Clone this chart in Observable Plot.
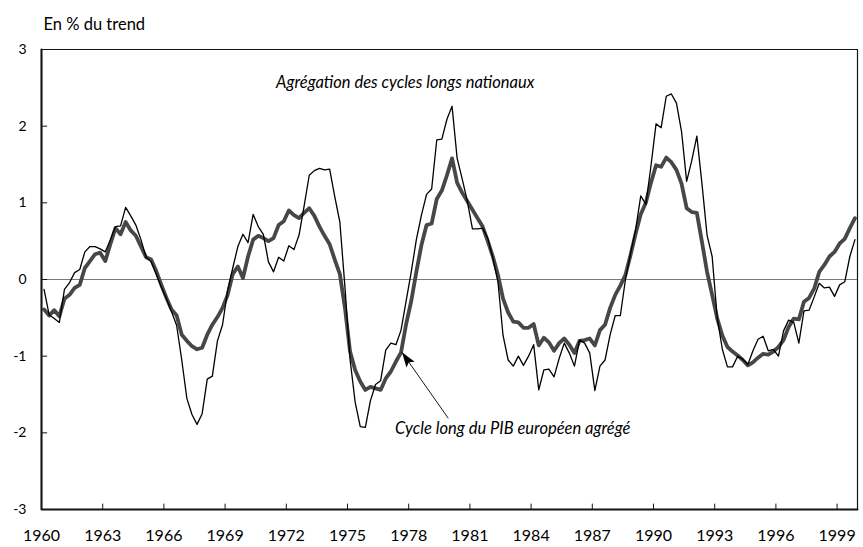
<!DOCTYPE html>
<html>
<head>
<meta charset="utf-8">
<script src="https://cdn.jsdelivr.net/npm/d3@7"></script>
<script src="https://cdn.jsdelivr.net/npm/@observablehq/plot@0.6"></script>
<style>
  body { margin: 0; background: #fff; }
  #chart g[aria-label="x-axis tick label"] { font-size: 16px; }
  #chart g[aria-label="y-axis tick label"] { font-size: 14px; }
</style>
</head>
<body>
<div id="chart"></div>
<script>
// Quarterly series, 1960Q1 .. 1999Q4 (160 quarters), in % of trend
const startYear = 1960;

// Thin black line: "Agrégation des cycles longs nationaux"
const aggregationNationaux = [
  -0.13, -0.46, -0.51, -0.56, -0.13, -0.04, 0.09, 0.13, 0.36, 0.43,
  0.43, 0.40, 0.36, 0.52, 0.69, 0.70, 0.94, 0.83, 0.71, 0.52,
  0.29, 0.23, 0.07, -0.10, -0.25, -0.42, -0.60, -1.05, -1.55, -1.76,
  -1.89, -1.75, -1.30, -1.26, -0.80, -0.59, -0.14, 0.15, 0.43, 0.59,
  0.48, 0.85, 0.69, 0.59, 0.23, 0.10, 0.29, 0.24, 0.44, 0.39,
  0.58, 0.96, 1.36, 1.42, 1.45, 1.43, 1.44, 1.08, 0.75, -0.10,
  -1.04, -1.60, -1.92, -1.93, -1.58, -1.37, -1.32, -0.92, -0.83, -0.85,
  -0.66, -0.28, 0.10, 0.52, 0.84, 1.11, 1.18, 1.82, 1.83, 2.09,
  2.26, 1.58, 1.31, 1.02, 0.66, 0.66, 0.67, 0.54, 0.28, -0.03,
  -0.73, -1.05, -1.13, -1.00, -1.12, -1.00, -0.85, -1.44, -1.18, -1.17,
  -1.27, -1.03, -0.83, -0.96, -1.13, -0.79, -0.83, -0.96, -1.45, -1.13,
  -1.05, -0.72, -0.47, -0.47, 0.00, 0.34, 0.65, 1.09, 0.98, 1.48,
  2.03, 1.98, 2.39, 2.42, 2.30, 1.93, 1.28, 1.55, 1.87, 1.25,
  0.58, 0.30, -0.50, -0.91, -1.14, -1.14, -1.00, -1.04, -1.11, -0.93,
  -0.78, -0.74, -0.93, -0.91, -1.00, -0.67, -0.53, -0.56, -0.83, -0.41,
  -0.40, -0.23, -0.05, -0.11, -0.10, -0.22, -0.07, -0.03, 0.30, 0.52
];

// Thick grey line: "Cycle long du PIB européen agrégé"
const cycleEuropeen = [
  -0.39, -0.47, -0.40, -0.48, -0.25, -0.20, -0.11, -0.07, 0.15, 0.24,
  0.33, 0.35, 0.24, 0.46, 0.67, 0.59, 0.75, 0.64, 0.57, 0.43,
  0.29, 0.26, 0.11, -0.07, -0.24, -0.39, -0.47, -0.72, -0.80, -0.87,
  -0.91, -0.89, -0.72, -0.59, -0.49, -0.37, -0.20, 0.07, 0.17, 0.02,
  0.30, 0.52, 0.57, 0.54, 0.50, 0.54, 0.71, 0.76, 0.90, 0.84,
  0.80, 0.87, 0.93, 0.83, 0.69, 0.57, 0.46, 0.26, 0.07, -0.37,
  -0.94, -1.18, -1.33, -1.44, -1.40, -1.42, -1.44, -1.29, -1.20, -1.07,
  -0.95, -0.58, -0.28, 0.10, 0.45, 0.71, 0.73, 1.05, 1.16, 1.36,
  1.58, 1.26, 1.13, 1.02, 0.91, 0.80, 0.69, 0.50, 0.30, 0.06,
  -0.25, -0.43, -0.55, -0.56, -0.63, -0.63, -0.58, -0.86, -0.76, -0.82,
  -0.93, -0.83, -0.77, -0.85, -0.96, -0.80, -0.79, -0.77, -0.86, -0.66,
  -0.59, -0.37, -0.20, -0.08, 0.06, 0.32, 0.60, 0.85, 1.00, 1.26,
  1.49, 1.47, 1.59, 1.53, 1.43, 1.25, 0.93, 0.88, 0.87, 0.49,
  0.10, -0.20, -0.51, -0.73, -0.88, -0.94, -0.99, -1.05, -1.12, -1.08,
  -1.02, -0.97, -0.98, -0.94, -0.88, -0.79, -0.62, -0.51, -0.52, -0.29,
  -0.24, -0.12, 0.10, 0.19, 0.30, 0.36, 0.47, 0.53, 0.67, 0.80
];

const xTickYears = [1960, 1963, 1966, 1969, 1972, 1975, 1978, 1981, 1984, 1987, 1990, 1993, 1996, 1999];
const yTickValues = [-3, -2, -1, 0, 1, 2, 3];
const xDomain = [1960, 2000];
const yDomain = [-3, 3];

const titleText = ["En % du trend"];
const annotations = [
  {label: "Agrégation des cycles longs nationaux", x: 1977.83, y: 2.5},
  {label: "Cycle long du PIB européen agrégé", x: 1983.1, y: -2.02}
];
const arrowLink = [{x1: 1979.94, y1: -1.81, x2: 1977.67, y2: -0.95}];

// each quarter sits at the centre of its category slot
const quarterPos = i => startYear + (i + 0.5) / 4;
const toRows = values => values.map((v, i) => ({t: quarterPos(i), v}));
const nat = toRows(aggregationNationaux);
const euro = toRows(cycleEuropeen);

// frame outline built from the scale domains
const [x0, x1] = xDomain, [y0, y1] = yDomain;
const boxOutline = [{t: x0, v: y0}, {t: x1, v: y0}, {t: x1, v: y1}, {t: x0, v: y1}, {t: x0, v: y0}];
const leftBottomAxes = [{t: x0, v: y1}, {t: x0, v: y0}, {t: x1, v: y0}];

// filled arrow head symbol, tip at origin, pointing up
const arrowHead = {
  draw(context) {
    context.moveTo(0, 0);
    context.lineTo(-5, 15);
    context.lineTo(0, 12);
    context.lineTo(5, 15);
    context.closePath();
  }
};

const ink = "#141414";

const chart = Plot.plot({
  width: 863,
  height: 547,
  marginLeft: 41,
  marginRight: 6,
  marginTop: 49,
  marginBottom: 38,
  style: {fontFamily: "Lato, 'Open Sans', sans-serif", fontSize: "15px", background: "white"},
  x: {domain: xDomain, ticks: xTickYears, tickSize: 0, tickPadding: 20, tickFormat: d => String(d), label: null},
  y: {domain: yDomain, ticks: yTickValues, tickSize: 0, tickPadding: 15, tickFormat: d => String(d), label: null},
  marks: [
    Plot.ruleY([0], {stroke: "#7a7a7a", strokeWidth: 1}),
    Plot.lineY(euro, {x: "t", y: "v", stroke: "#474747", strokeWidth: 3.8, strokeLinejoin: "round"}),
    Plot.lineY(nat, {x: "t", y: "v", stroke: "#000", strokeWidth: 1.3, strokeLinejoin: "round"}),
    Plot.frame({stroke: ink, strokeWidth: 1}),
    Plot.line(boxOutline, {x: "t", y: "v", stroke: ink, strokeWidth: 1.2}),
    Plot.line(leftBottomAxes, {x: "t", y: "v", stroke: ink, strokeWidth: 2}),
    Plot.ruleY(yTickValues.slice(1, -1), {x1: x0, x2: x0 + 0.3, stroke: ink, strokeWidth: 1}),
    Plot.ruleX(xTickYears.slice(1), {y1: y0, y2: y0 + 0.07, stroke: ink, strokeWidth: 1}),
    Plot.text(titleText, {frameAnchor: "top-left", text: d => d, textAnchor: "start", lineAnchor: "bottom", dx: 2, dy: -20, fontSize: 16.5}),
    Plot.text(annotations, {x: "x", y: "y", text: "label", fontStyle: "italic", textAnchor: "middle", lineAnchor: "bottom", fontSize: 16.5}),
    Plot.link(arrowLink, {x1: "x1", y1: "y1", x2: "x2", y2: "y2", stroke: "#000", strokeWidth: 0.9}),
    Plot.dot(arrowLink, {x: "x2", y: "y2", symbol: arrowHead, r: 5, fill: "#000", stroke: "none", rotate: -35})
  ]
});

document.getElementById("chart").appendChild(chart);
</script>
</body>
</html>
